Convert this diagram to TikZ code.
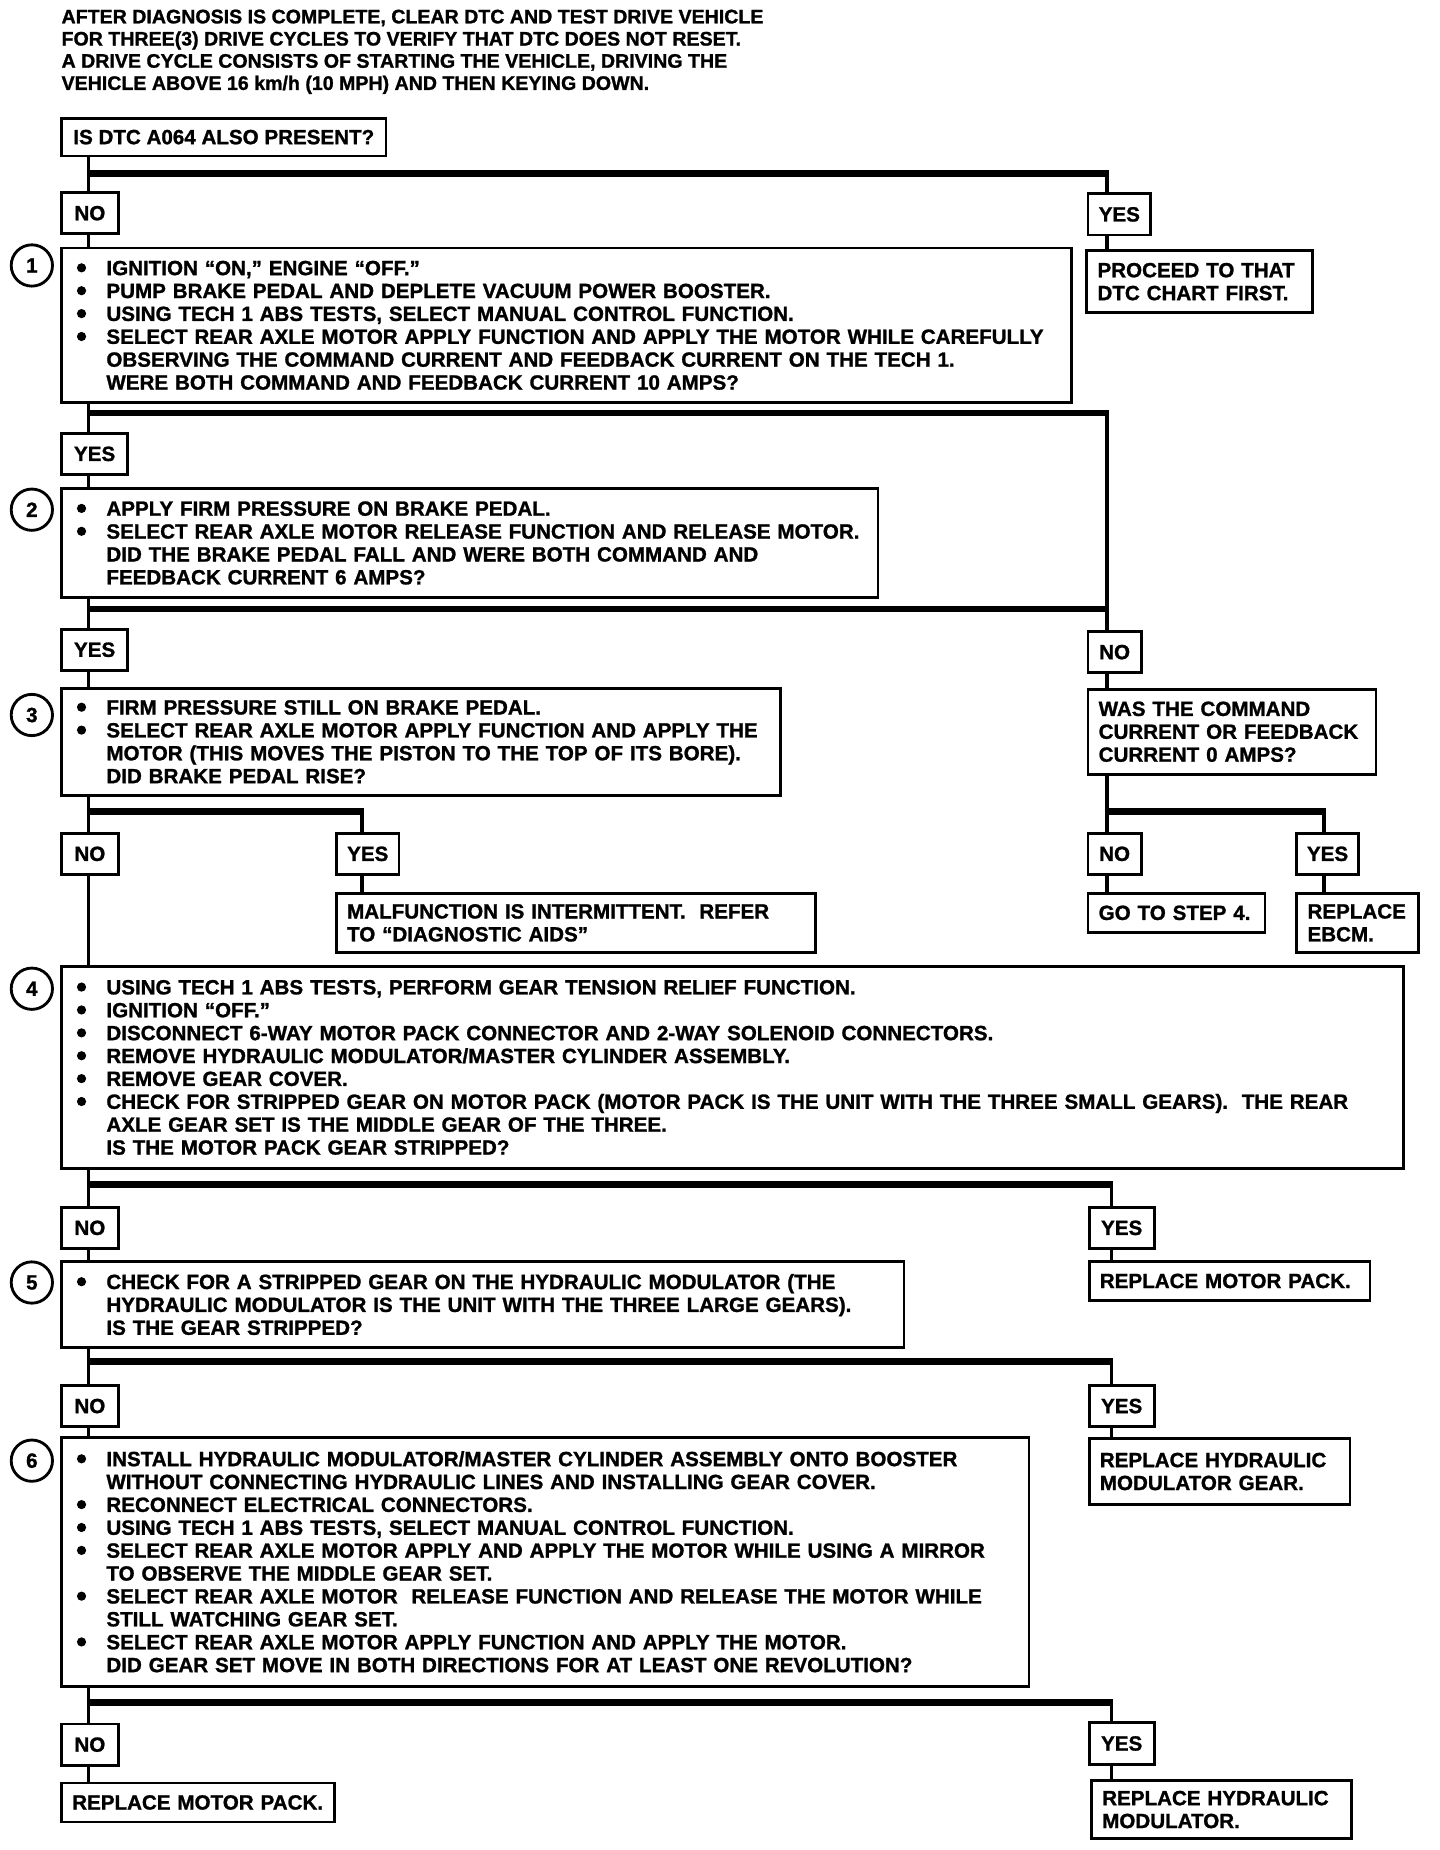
\documentclass[tikz,border=0pt]{standalone}
\usepackage{fontspec}
\setmainfont{Liberation Sans}[BoldFeatures={FakeBold=1.2}]
\newcommand\steptxt{\fontsize{17.45}{19.4}\selectfont\bfseries}
\newcommand\titletxt{\fontsize{16.6}{18.8}\selectfont\bfseries}
\newcommand\bul{\makebox[25pt][l]{\tikz[baseline=0pt]\fill (2.8pt,6.2pt) circle[radius=3.9pt];}}
\newcommand\ind{\hspace*{25pt}}
\begin{document}
\begin{tikzpicture}[x=1pt,y=-1pt,
  box/.style={draw, line width=2.4pt, rectangle, inner ysep=0pt, font=\steptxt},
  stepbox/.style={box, align=left, inner xsep=13pt, anchor=north west},
  smallbox/.style={box, align=left, inner xsep=9pt, anchor=north west},
  ynbox/.style={box, align=center, inner xsep=0pt, anchor=north west, minimum height=35pt},
  numcirc/.style={draw, circle, line width=2.4pt, minimum size=35pt, inner sep=0pt, font=\steptxt},
  vl/.style={line width=3.2pt},
  bar/.style={line width=5.5pt, shorten <=-1.6pt, shorten >=-1.6pt}]
\useasboundingbox[fill=white] (0,0) rectangle (1220,1568);

% title
\node[anchor=north west, inner sep=0pt, align=left, font=\titletxt] (title) at (52,8)
 {AFTER DIAGNOSIS IS COMPLETE, CLEAR DTC AND TEST DRIVE VEHICLE\\
  FOR THREE(3) DRIVE CYCLES TO VERIFY THAT DTC DOES NOT RESET.\\
  A DRIVE CYCLE CONSISTS OF STARTING THE VEHICLE, DRIVING THE\\
  VEHICLE ABOVE 16 km/h (10 MPH) AND THEN KEYING DOWN.};

\coordinate (mx) at (75,0);

% question
\node[box, anchor=north west, inner xsep=0pt, minimum width=275pt, minimum height=32pt] (q) at (51,99) {IS DTC A064 ALSO PRESENT?};

\node[ynbox, minimum width=48pt] (no1) at (51,162) {NO};
\node[ynbox, minimum width=53pt] (yes1) at (921,163) {YES};

% step 1
\node[numcirc] (c1) at (27,225) {1};
\node[stepbox, text width=830pt, minimum height=131pt] (s1) at (51,209)
 {\bul IGNITION “ON,” ENGINE “OFF.”\\
  \bul PUMP BRAKE PEDAL AND DEPLETE VACUUM POWER BOOSTER.\\
  \bul USING TECH 1 ABS TESTS, SELECT MANUAL CONTROL FUNCTION.\\
  \bul SELECT REAR AXLE MOTOR APPLY FUNCTION AND APPLY THE MOTOR WHILE CAREFULLY\\
  \ind OBSERVING THE COMMAND CURRENT AND FEEDBACK CURRENT ON THE TECH 1.\\
  \ind WERE BOTH COMMAND AND FEEDBACK CURRENT 10 AMPS?};
\node[smallbox, text width=173pt, minimum height=53pt] (proc) at (920,211)
 {PROCEED TO THAT\\ DTC CHART FIRST.};

\node[ynbox, minimum width=56pt] (yes2) at (51,366) {YES};

% step 2
\node[numcirc] (c2) at (27,432) {2};
\node[stepbox, text width=666pt, minimum height=92pt] (s2) at (51,413)
 {\bul APPLY FIRM PRESSURE ON BRAKE PEDAL.\\
  \bul SELECT REAR AXLE MOTOR RELEASE FUNCTION AND RELEASE MOTOR.\\
  \ind DID THE BRAKE PEDAL FALL AND WERE BOTH COMMAND AND\\
  \ind FEEDBACK CURRENT 6 AMPS?};

\node[ynbox, minimum width=56pt] (yes3) at (51,532) {YES};
\node[ynbox, minimum width=45pt] (no3) at (921,534) {NO};

% step 3
\node[numcirc] (c3) at (27,606) {3};
\node[stepbox, text width=583pt, minimum height=91pt] (s3) at (51,582)
 {\bul FIRM PRESSURE STILL ON BRAKE PEDAL.\\
  \bul SELECT REAR AXLE MOTOR APPLY FUNCTION AND APPLY THE\\
  \ind MOTOR (THIS MOVES THE PISTON TO THE TOP OF ITS BORE).\\
  \ind DID BRAKE PEDAL RISE?};
\node[smallbox, text width=226pt, minimum height=72pt] (was) at (921,583)
 {WAS THE COMMAND\\ CURRENT OR FEEDBACK\\ CURRENT 0 AMPS?};

\node[ynbox, minimum width=48pt] (no4) at (51,705) {NO};
\node[ynbox, minimum width=53pt] (yes4) at (284,705) {YES};
\node[ynbox, minimum width=45pt] (no5) at (921,705) {NO};
\node[ynbox, minimum width=52pt] (yes5) at (1098,705) {YES};

\node[smallbox, text width=388pt, minimum height=50pt] (malf) at (284,756)
 {MALFUNCTION IS INTERMITTENT.\ \ REFER\\ TO “DIAGNOSTIC AIDS”};
\node[smallbox, text width=132pt, minimum height=33pt] (goto) at (921,756) {GO TO STEP 4.};
\node[smallbox, text width=85pt, minimum height=50pt] (ebcm) at (1098,756) {REPLACE\\ EBCM.};

% step 4
\node[numcirc] (c4) at (27,838) {4};
\node[stepbox, text width=1111pt, minimum height=171pt] (s4) at (51,818)
 {\bul USING TECH 1 ABS TESTS, PERFORM GEAR TENSION RELIEF FUNCTION.\\
  \bul IGNITION “OFF.”\\
  \bul DISCONNECT 6-WAY MOTOR PACK CONNECTOR AND 2-WAY SOLENOID CONNECTORS.\\
  \bul REMOVE HYDRAULIC MODULATOR/MASTER CYLINDER ASSEMBLY.\\
  \bul REMOVE GEAR COVER.\\
  \bul CHECK FOR STRIPPED GEAR ON MOTOR PACK (MOTOR PACK IS THE UNIT WITH THE THREE SMALL GEARS).\ \ THE REAR\\
  \ind AXLE GEAR SET IS THE MIDDLE GEAR OF THE THREE.\\
  \ind IS THE MOTOR PACK GEAR STRIPPED?};

\node[ynbox, minimum width=48pt] (no6) at (51,1022) {NO};
\node[ynbox, minimum width=55pt] (yes6) at (922,1022) {YES};

% step 5
\node[numcirc] (c5) at (27,1087) {5};
\node[stepbox, text width=688pt, minimum height=73pt] (s5) at (51,1068)
 {\bul CHECK FOR A STRIPPED GEAR ON THE HYDRAULIC MODULATOR (THE\\
  \ind HYDRAULIC MODULATOR IS THE UNIT WITH THE THREE LARGE GEARS).\\
  \ind IS THE GEAR STRIPPED?};
\node[smallbox, text width=220pt, minimum height=33pt] (rmp1) at (922,1068) {REPLACE MOTOR PACK.};

\node[ynbox, minimum width=48pt] (no7) at (51,1173) {NO};
\node[ynbox, minimum width=55pt] (yes7) at (922,1173) {YES};

% step 6
\node[numcirc] (c6) at (27,1238) {6};
\node[stepbox, text width=794pt, minimum height=211pt] (s6) at (51,1217)
 {\bul INSTALL HYDRAULIC MODULATOR/MASTER CYLINDER ASSEMBLY ONTO BOOSTER\\
  \ind WITHOUT CONNECTING HYDRAULIC LINES AND INSTALLING GEAR COVER.\\
  \bul RECONNECT ELECTRICAL CONNECTORS.\\
  \bul USING TECH 1 ABS TESTS, SELECT MANUAL CONTROL FUNCTION.\\
  \bul SELECT REAR AXLE MOTOR APPLY AND APPLY THE MOTOR WHILE USING A MIRROR\\
  \ind TO OBSERVE THE MIDDLE GEAR SET.\\
  \bul SELECT REAR AXLE MOTOR\ \ RELEASE FUNCTION AND RELEASE THE MOTOR WHILE\\
  \ind STILL WATCHING GEAR SET.\\
  \bul SELECT REAR AXLE MOTOR APPLY FUNCTION AND APPLY THE MOTOR.\\
  \ind DID GEAR SET MOVE IN BOTH DIRECTIONS FOR AT LEAST ONE REVOLUTION?};
\node[smallbox, text width=203pt, minimum height=56pt] (rhmg) at (922,1218)
 {REPLACE HYDRAULIC\\ MODULATOR GEAR.};

\node[ynbox, minimum width=48pt] (no8) at (51,1460) {NO};
\node[ynbox, minimum width=55pt] (yes8) at (922,1459) {YES};

\node[smallbox, text width=213pt, minimum height=33pt] (rmp2) at (51,1510) {REPLACE MOTOR PACK.};
\node[smallbox, text width=202pt, minimum height=49pt] (rhm) at (924,1508)
 {REPLACE HYDRAULIC\\ MODULATOR.};

% junction coordinates
\coordinate (b1l) at (75,147);   \coordinate (b1r) at (938,147);
\coordinate (b2l) at (75,350);   \coordinate (b2r) at (938,350);
\coordinate (b3l) at (75,516);   \coordinate (b3r) at (938,516);
\coordinate (b4l) at (75,688);   \coordinate (b4m) at (307,688);
\coordinate (b4r) at (938,688);  \coordinate (b4rr) at (1122,688);
\coordinate (b5l) at (75,1004);  \coordinate (b5r) at (942,1004);
\coordinate (b6l) at (75,1154);  \coordinate (b6r) at (942,1154);
\coordinate (b7l) at (75,1443);  \coordinate (b7r) at (942,1443);

% main vertical line
\draw[vl] (q.south -| mx) -- (no1.north -| mx);
\draw[vl] (no1.south -| mx) -- (s1.north -| mx);
\draw[vl] (s1.south -| mx) -- (yes2.north -| mx);
\draw[vl] (yes2.south -| mx) -- (s2.north -| mx);
\draw[vl] (s2.south -| mx) -- (yes3.north -| mx);
\draw[vl] (yes3.south -| mx) -- (s3.north -| mx);
\draw[vl] (s3.south -| mx) -- (no4.north -| mx);
\draw[vl] (no4.south -| mx) -- (s4.north -| mx);
\draw[vl] (s4.south -| mx) -- (no6.north -| mx);
\draw[vl] (no6.south -| mx) -- (s5.north -| mx);
\draw[vl] (s5.south -| mx) -- (no7.north -| mx);
\draw[vl] (no7.south -| mx) -- (s6.north -| mx);
\draw[vl] (s6.south -| mx) -- (no8.north -| mx);
\draw[vl] (no8.south -| mx) -- (rmp2.north -| mx);

% branch bars
\draw[bar] (b1l) -- (b1r);
\draw[bar] (b2l) -- (b2r);
\draw[bar] (b3l) -- (b3r);
\draw[bar] (b4l) -- (b4m);
\draw[bar] (b4r) -- (b4rr);
\draw[bar] (b5l) -- (b5r);
\draw[bar] (b6l) -- (b6r);
\draw[bar] (b7l) -- (b7r);

% right-hand branches
\draw[vl] (b1r) -- (yes1.north -| b1r);
\draw[vl] (yes1.south -| b1r) -- (proc.north -| b1r);
\draw[vl] (b2r) -- (no3.north -| b2r);
\draw[vl] (no3.south -| b2r) -- (was.north -| b2r);
\draw[vl] (was.south -| b4r) -- (b4r);
\draw[vl] (b4r) -- (no5.north -| b4r);
\draw[vl] (no5.south -| b4r) -- (goto.north -| b4r);
\draw[vl] (b4rr) -- (yes5.north -| b4rr);
\draw[vl] (yes5.south -| b4rr) -- (ebcm.north -| b4rr);
\draw[vl] (b4m) -- (yes4.north -| b4m);
\draw[vl] (yes4.south -| b4m) -- (malf.north -| b4m);
\draw[vl] (b5r) -- (yes6.north -| b5r);
\draw[vl] (yes6.south -| b5r) -- (rmp1.north -| b5r);
\draw[vl] (b6r) -- (yes7.north -| b6r);
\draw[vl] (yes7.south -| b6r) -- (rhmg.north -| b6r);
\draw[vl] (b7r) -- (yes8.north -| b7r);
\draw[vl] (yes8.south -| b7r) -- (rhm.north -| b7r);
\end{tikzpicture}
\end{document}
